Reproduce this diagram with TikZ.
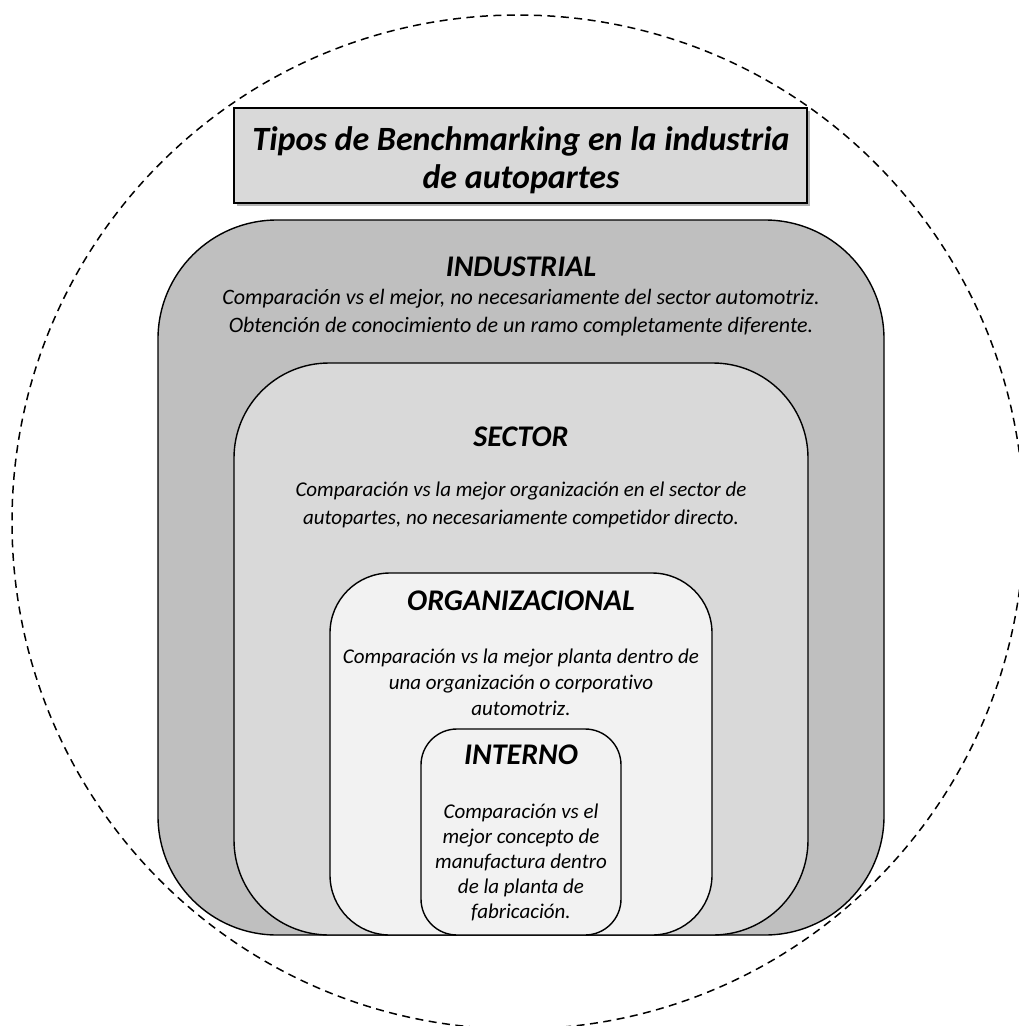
\documentclass[tikz,border=0pt]{standalone}
\usepackage{fontspec}
\setmainfont{Carlito}[Ligatures={NoCommon}]
\definecolor{gA}{HTML}{BFBFBF}
\definecolor{gB}{HTML}{D9D9D9}
\definecolor{gC}{HTML}{F2F2F2}
\begin{document}
\begin{tikzpicture}[x=1pt,y=-1pt,
  level/.style={draw=black,line width=1.4pt,inner sep=0pt,rectangle},
  head/.style={font=\fontsize{30}{34}\selectfont\bfseries\itshape,inner sep=0pt},
  body/.style={font=\fontsize{21}{26}\selectfont\itshape,align=center,inner sep=0pt}]
\useasboundingbox (0,0) rectangle (1019,1026);
\begin{scope}
\clip (0,0) rectangle (1019,1026);
\draw[line width=1.5pt,dash pattern=on 8pt off 5.5pt] (518,522) ellipse [x radius=506, y radius=507];
\end{scope}
% title
\fill[gray!60] (236.5,110.5) rectangle (809.5,205.5);
\node[level,fill=gB,minimum width=573pt,minimum height=95pt] (title) at (520.5,155.5) {};
\node[font=\fontsize{34}{38}\selectfont\bfseries\itshape,align=center,inner sep=0pt] (titletext) at (521,160) {Tipos de Benchmarking en la industria\\de autopartes};
% nested levels
\node[level,fill=gA,minimum width=726pt,minimum height=715pt,rounded corners=119pt] (ind) at (521,577.5) {};
\node[level,fill=gB,minimum width=574pt,minimum height=572pt,rounded corners=95pt] (sec) at (521,649) {};
\node[level,fill=gC,minimum width=382pt,minimum height=362pt,rounded corners=60pt] (org) at (521,754) {};
\node[level,fill=gC,minimum width=200pt,minimum height=206pt,rounded corners=36pt] (int) at (521,832) {};
% texts
\node[head] (indh) at (521,267) {INDUSTRIAL};
\node[body,font=\fontsize{22}{28}\selectfont\itshape] (indt) at (521,313) {Comparación vs el mejor, no necesariamente del sector automotriz.\\Obtención de conocimiento de un ramo completamente diferente.};
\node[head] (sech) at (521,437) {SECTOR};
\node[body,font=\fontsize{21}{28}\selectfont\itshape] (sect) at (521,505) {Comparación vs la mejor organización en el sector de\\autopartes, no necesariamente competidor directo.};
\node[head] (orgh) at (521,601) {ORGANIZACIONAL};
\node[body] (orgt) at (521,682) {Comparación vs la mejor planta dentro de\\una organización o corporativo\\automotriz.};
\node[head] (inth) at (521,755) {INTERNO};
\node[body,font=\fontsize{21}{25}\selectfont\itshape] (intt) at (521,862) {Comparación vs el\\mejor concepto de\\manufactura dentro\\de la planta de\\fabricación.};
\end{tikzpicture}
\end{document}
